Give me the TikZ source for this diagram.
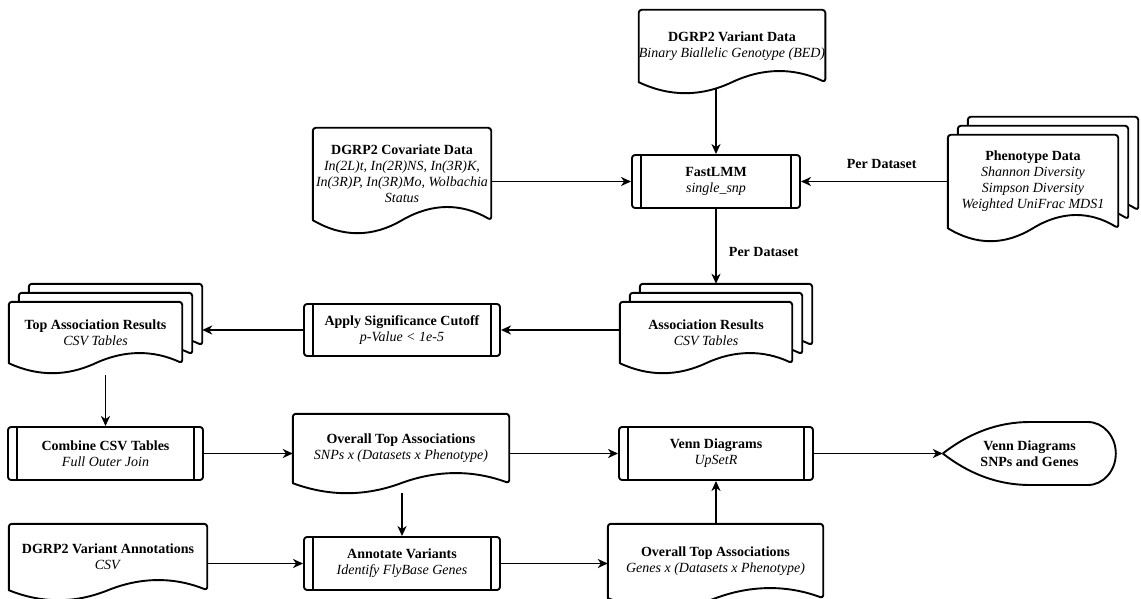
\documentclass[tikz,border=0pt]{standalone}
\usepackage{fontspec}
\setmainfont{Liberation Serif}
\usetikzlibrary{calc,positioning,arrows.meta}

% document outline: node, x offset, y offset, wave depth
\newcommand{\docshape}[4]{%
  \draw[flowline,fill=white]
    ($(#1.south west)+(#2,#3)$) [rounded corners=3pt]
    -- ($(#1.north west)+(#2,#3)$) -- ($(#1.north east)+(#2,#3)$)
    -- ($(#1.south east)+(#2,#3)$) [sharp corners]
    .. controls ($(#1.south east)!1/6!(#1.south west)+(#2,#3+4*#4/3)$)
            and ($(#1.south east)!1/3!(#1.south west)+(#2,#3+4*#4/3)$) .. ($(#1.south)+(#2,#3)$)
    .. controls ($(#1.south east)!2/3!(#1.south west)+(#2,#3-4*#4/3)$)
            and ($(#1.south east)!5/6!(#1.south west)+(#2,#3-4*#4/3)$) .. ($(#1.south west)+(#2,#3)$)
    -- cycle;}

\tikzset{
  flowline/.style={line width=1.9pt,line join=round},
  conn/.style={flowline,->},
  lbl/.style={inner sep=0pt,font=\fontsize{14}{16}\selectfont\bfseries},
  docnode/.default=11,
  docnode/.style={inner sep=0pt,align=center,
    append after command={\pgfextra{\docshape{\tikzlastnode}{0}{0}{#1}}}},
  multidoc/.default=10,
  multidoc/.style={inner sep=0pt,align=center,
    append after command={\pgfextra{%
      \docshape{\tikzlastnode}{20}{18}{#1}%
      \docshape{\tikzlastnode}{10}{9}{#1}%
      \docshape{\tikzlastnode}{0}{0}{#1}}}},
  procnode/.style={draw,flowline,rounded corners=3pt,minimum height=53pt,
    inner sep=0pt,align=center,
    append after command={\pgfextra{%
      \draw[flowline] ($(\tikzlastnode.north west)+(10,0)$) -- ($(\tikzlastnode.south west)+(10,0)$)
                      ($(\tikzlastnode.north east)+(-10,0)$) -- ($(\tikzlastnode.south east)+(-10,0)$);}}},
  displaynode/.style={inner sep=0pt,align=center,
    append after command={\pgfextra{%
      \draw[flowline] (\tikzlastnode.west) .. controls +(27,21) and +(-31,0) .. ++(87,31.5)
        -- ++(58,0) arc[start angle=90,end angle=-90,x radius=28,y radius=31.5]
        -- ++(-58,0) .. controls +(-31,0) and +(27,-21) .. (\tikzlastnode.west);}}}
}

\begin{document}
\begin{tikzpicture}[x=1pt,y=1pt,>={Stealth[length=10pt,width=9pt,inset=3pt]},
    font=\fontsize{14}{16}\selectfont]
  \useasboundingbox (0,0) rectangle (1141,-599);

  % inputs
  \node[docnode=11,minimum width=178pt,minimum height=72pt] (vardata) at (732,-46)
    {\textbf{DGRP2 Variant Data}\\\textit{Binary Biallelic Genotype (BED)}};
  \node[docnode=13,minimum width=178pt,minimum height=92pt] (covar) at (402,-174)
    {\textbf{DGRP2 Covariate Data}\\\textit{In(2L)t, In(2R)NS, In(3R)K,}\\
     \textit{In(3R)P, In(3R)Mo, Wolbachia}\\\textit{Status}};
  \node[multidoc=13,minimum width=170pt,minimum height=93pt] (pheno) at (1033,-181.5)
    {\textbf{Phenotype Data}\\\textit{Shannon Diversity}\\\textit{Simpson Diversity}\\
     \textit{Weighted UniFrac MDS1}};
  \node[procnode,minimum width=168pt] (fastlmm) at (716,-181.5)
    {\textbf{FastLMM}\\\textit{single\_snp}};

  % results
  \node[multidoc,minimum width=172pt,minimum height=61pt] (assoc) at (706,-332.5)
    {\textbf{Association Results}\\\textit{CSV Tables}};
  \node[procnode,minimum width=196pt,minimum height=52pt] (cutoff) at (402,-330)
    {\textbf{Apply Significance Cutoff}\\\textit{p-Value < 1e-5}};
  \node[multidoc,minimum width=173pt,minimum height=61pt] (topassoc) at (95.5,-332.5)
    {\textbf{Top Association Results}\\\textit{CSV Tables}};

  \node[procnode,minimum width=195pt] (combine) at (105.5,-453.5)
    {\textbf{Combine CSV Tables}\\\textit{Full Outer Join}};
  \node[docnode=10,minimum width=216pt,minimum height=69pt] (overall) at (401,-448.5)
    {\textbf{Overall Top Associations}\\\textit{SNPs x (Datasets x Phenotype)}};
  \node[procnode,minimum width=194pt] (venn) at (716,-453.5)
    {\textbf{Venn Diagrams}\\\textit{UpSetR}};
  \node[displaynode,minimum width=173pt,minimum height=63pt] (vennout) at (1029.5,-453.5)
    {\textbf{Venn Diagrams}\\\textbf{SNPs and Genes}};

  \node[docnode=10,minimum width=198pt,minimum height=66pt] (annot) at (108,-557)
    {\textbf{DGRP2 Variant Annotations}\\\textit{CSV}};
  \node[procnode,minimum width=196pt] (annotate) at (402,-563.5)
    {\textbf{Annotate Variants}\\\textit{Identify FlyBase Genes}};
  \node[docnode=10,minimum width=215pt,minimum height=74pt] (overall2) at (715.5,-561)
    {\textbf{Overall Top Associations}\\\textit{Genes x (Datasets x Phenotype)}};

  % connectors
  \coordinate (vdout) at ($(vardata.south)+(0,-6)$);
  \coordinate (assoctop) at ($(assoc.north)+(20,18)$);
  \coordinate (taright) at ($(topassoc.east)+(20,0)$);
  \coordinate (tabot) at ($(topassoc.south)+(0,-12)$);
  \coordinate (ovbot) at ($(overall.south)+(0,-10)$);

  \draw[conn] (vdout -| fastlmm) -- (fastlmm);
  \draw[conn] (covar.east |- fastlmm) -- (fastlmm);
  \draw[conn] (pheno.west |- fastlmm) -- node[lbl,above=12pt,pos=.45] {Per Dataset} (fastlmm);
  \draw[conn] (fastlmm) -- node[lbl,right=12pt,pos=.58] {Per Dataset} (fastlmm |- assoctop);
  \draw[conn] (assoc.west |- cutoff) -- (cutoff);
  \draw[conn] (cutoff) -- (taright |- cutoff);
  \draw[conn] (tabot -| combine) -- (combine);
  \draw[conn] (combine) -- (overall.west |- combine);
  \draw[conn] (overall.east |- venn) -- (venn);
  \draw[conn] (venn) -- (vennout.west);
  \draw[conn] (ovbot -| annotate) -- (annotate);
  \draw[conn] (annot.east |- annotate) -- (annotate);
  \draw[conn] (annotate) -- (overall2.west |- annotate);
  \draw[conn] (overall2.north -| venn) -- (venn);
\end{tikzpicture}
\end{document}
